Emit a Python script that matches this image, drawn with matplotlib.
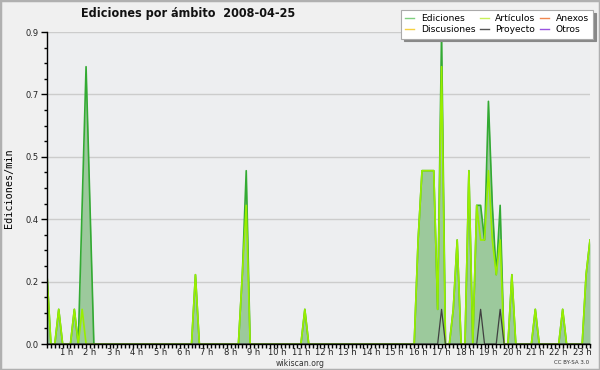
import numpy as np
import matplotlib
matplotlib.use("Agg")
import matplotlib.pyplot as plt
import matplotlib.transforms as mtransforms
from matplotlib.lines import Line2D
from matplotlib.patches import Rectangle
from matplotlib.ticker import FixedLocator, MultipleLocator, FormatStrFormatter

# Franjas de 10 minutos con valor distinto de cero (ediciones/min)
ediciones_t = ["00:00", "00:30", "01:10", "01:30", "01:40", "01:50", "06:20",
               "08:20", "08:30", "11:00", "15:50", "16:00", "16:10", "16:20",
               "16:30", "16:40", "16:50", "17:20", "17:30", "18:00", "18:20",
               "18:30", "18:40", "18:50", "19:00", "19:10", "19:20", "19:50",
               "20:50", "22:00", "23:00", "23:10"]
ediciones_v = [0.2, 0.1, 0.1, 0.4, 0.8, 0.4, 0.2,
               0.2, 0.5, 0.1, 0.3, 0.5, 0.5, 0.5,
               0.5, 0.1, 0.9, 0.1, 0.3, 0.5, 0.4,
               0.4, 0.3, 0.7, 0.4, 0.2, 0.4, 0.2,
               0.1, 0.1, 0.2, 0.3]

articulos_t = ["00:00", "00:30", "01:10", "01:30", "06:20", "08:20", "08:30",
               "11:00", "15:50", "16:00", "16:10", "16:20", "16:30", "16:40",
               "16:50", "17:20", "17:30", "18:00", "18:20", "18:30", "18:40",
               "18:50", "19:00", "19:10", "19:20", "19:50", "20:50", "22:00",
               "23:00", "23:10"]
articulos_v = [0.2, 0.1, 0.1, 0.1, 0.2, 0.2, 0.4,
               0.1, 0.3, 0.5, 0.5, 0.5, 0.5, 0.1,
               0.8, 0.1, 0.3, 0.5, 0.4, 0.3, 0.3,
               0.5, 0.3, 0.2, 0.3, 0.2, 0.1, 0.1,
               0.2, 0.3]

proyecto_t = ["16:50", "18:30", "19:20"]
proyecto_v = [0.1, 0.1, 0.1]

ultima_franja = "23:10"
horas = list(range(1, 24))
etiquetas_horas = [f"{h} h" for h in horas]

leyenda = [("Ediciones", "#7fcf7f"), ("Discusiones", "#f5d142"),
           ("Artículos", "#c8f05a"), ("Proyecto", "#555555"),
           ("Anexos", "#f08850"), ("Otros", "#9955e0")]


def a_franja(hhmm):
    h, m = hhmm.split(":")
    return (int(h) * 60 + int(m)) // 10


n = a_franja(ultima_franja) + 1
t = np.arange(n) / 6.0


def serie(tiempos, valores):
    s = np.zeros(n)
    for hhmm, v in zip(tiempos, valores):
        s[a_franja(hhmm)] = v
    return s


ed = serie(ediciones_t, ediciones_v)
art = serie(articulos_t, articulos_v)
proy = serie(proyecto_t, proyecto_v)

fig = plt.figure(figsize=(6, 3.7), dpi=100, facecolor="#f0f0f0")
ax = fig.add_axes([47 / 600, 1 - 344 / 370, 543 / 600, 312 / 370])
ax.set_facecolor("#edeef0")

ax.fill_between(t, ed, color="#9cc99c", lw=0, zorder=2)
ax.plot(t, ed, color="#33aa33", lw=1.2, zorder=3)
ax.plot(t, art, color="#99ee00", lw=1.2, zorder=4)
ax.plot(t, proy, color="#404040", lw=0.9, zorder=5)

ax.set_xlim(0, t[-1])
ax.set_ylim(0, 0.9)

ax.yaxis.set_major_locator(FixedLocator(np.linspace(0, 0.9, 6)))
ax.yaxis.set_major_formatter(FormatStrFormatter("%.1f"))
ax.yaxis.set_minor_locator(MultipleLocator(0.045))
ax.xaxis.set_major_locator(FixedLocator(horas))
ax.set_xticklabels(etiquetas_horas)
ax.xaxis.set_minor_locator(MultipleLocator(1 / 6))

ax.grid(axis="y", color="#cccccc", lw=1, zorder=1)
ax.set_axisbelow(True)

for s in ["top", "right"]:
    ax.spines[s].set_visible(False)
for s in ["left", "bottom"]:
    ax.spines[s].set_linewidth(1)
    ax.spines[s].set_zorder(6)

ax.tick_params(axis="both", which="both", direction="out", width=1,
               labelsize=6, colors="black", labelcolor="#222222")
ax.tick_params(axis="y", which="major", length=4.5, pad=1.5)
ax.tick_params(axis="y", which="minor", length=2.5)
ax.tick_params(axis="x", which="both", length=2.8, pad=0.3)

desplaza = mtransforms.ScaledTranslation(-4 / 100, 0, fig.dpi_scale_trans)
for lab in ax.get_xticklabels():
    lab.set_transform(lab.get_transform() + desplaza)

ax.set_ylabel("Ediciones/min", family="DejaVu Sans Mono", fontsize=7.3)
ax.yaxis.set_label_coords(-33 / 543, 0.5)

fig.text(188 / 600, 1 - 14 / 370, "Ediciones por ámbito  2008-04-25",
         ha="center", va="center", fontsize=9, fontweight="bold",
         fontstretch="condensed", color="#111111")
fig.text(300 / 600, 1 - 363 / 370, "wikiscan.org", ha="center",
         va="center", fontsize=5.6, color="#333333")
fig.text(589 / 600, 1 - 363 / 370, "CC BY-SA 3.0", ha="right",
         va="center", fontsize=4, color="#333333")

handles = [Line2D([], [], color=c, lw=1) for _, c in leyenda]
leg = fig.legend(handles, [l for l, _ in leyenda], ncol=3, loc="upper right",
                 bbox_to_anchor=(593 / 600, 1 - 10 / 370), fontsize=6.6,
                 frameon=True, fancybox=False,
                 shadow={"color": "#888888", "alpha": 1},
                 handlelength=1.0, handletextpad=0.7, columnspacing=0.5,
                 labelspacing=0.25, borderpad=0.45, borderaxespad=0)
leg.get_frame().set_facecolor("white")
leg.get_frame().set_edgecolor("#aaaaaa")
leg.get_frame().set_linewidth(0.8)

fig.patches.append(Rectangle((0, 0), 1, 1, transform=fig.transFigure,
                             fill=False, edgecolor="#b0b0b0", lw=2.5))

fig.savefig("out.png", dpi=100, facecolor=fig.get_facecolor())
